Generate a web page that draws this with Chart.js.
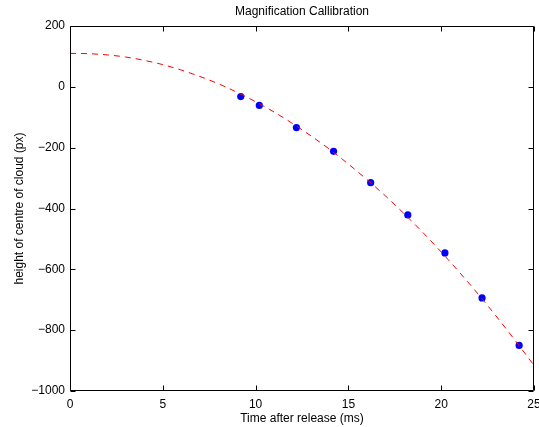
<!DOCTYPE html>
<html><head><meta charset="utf-8">
<script src="https://cdn.jsdelivr.net/npm/chart.js@4/dist/chart.umd.min.js"></script>
<style>html,body{margin:0;padding:0;background:#fff}#wrap{width:539px;height:427px}</style>
</head><body><div id="wrap"><canvas id="c" width="539" height="427"></canvas></div>
<script>
const chartTitle = 'Magnification Callibration';
const xLabel = 'Time after release (ms)';
const yLabel = 'height of centre of cloud (px)';
const measuredTime = [9.2, 10.2, 12.2, 14.2, 16.2, 18.2, 20.2, 22.2, 24.2];
const measuredHeight = [-32, -61, -134, -212, -315, -421, -546, -694, -850];
const fitTime = [0, 1, 2, 3, 4, 5, 6, 7, 8, 9, 10, 11, 12, 13, 14, 15, 16, 17, 18, 19, 20, 21, 22, 23, 24, 25];
const fitHeight = [110, 109, 105, 98, 87, 73, 55, 34, 10, -18, -49, -83, -121, -162, -206, -254, -305, -359, -417, -478, -543, -611, -682, -757, -835, -916];
const xTicks = [0, 5, 10, 15, 20, 25];
const yTicks = [-1000, -800, -600, -400, -200, 0, 200];

const FONT = 'Liberation Sans, Arial, Helvetica, sans-serif';
const fmt = v => String(v).replace('-', '\u2212');

const decor = {
  id: 'decor',
  afterDraw(chart) {
    const ctx = chart.ctx, a = chart.chartArea;
    const xs = chart.scales.x, ys = chart.scales.y;
    ctx.save();
    ctx.strokeStyle = '#000';
    ctx.lineWidth = 1;
    const L = Math.round(a.left) + 0.5, R = Math.round(a.right) - 0.5;
    const T = Math.round(a.top) + 0.5, B = Math.round(a.bottom) - 0.5;
    ctx.beginPath();
    ctx.rect(L, T, R - L, B - T);
    const tl = 5;
    xTicks.forEach(v => {
      const px = Math.round(xs.getPixelForValue(v)) + 0.5;
      ctx.moveTo(px, B); ctx.lineTo(px, B - tl);
      ctx.moveTo(px, T); ctx.lineTo(px, T + tl);
    });
    yTicks.forEach(v => {
      const py = Math.round(ys.getPixelForValue(v)) + 0.5;
      ctx.moveTo(L, py); ctx.lineTo(L + tl, py);
      ctx.moveTo(R, py); ctx.lineTo(R - tl, py);
    });
    ctx.stroke();
    ctx.fillStyle = '#000';
    ctx.font = '12px ' + FONT;
    ctx.textAlign = 'center';
    ctx.textBaseline = 'middle';
    const cx = (a.left + a.right) / 2;
    ctx.fillText(chartTitle, cx, 12);
    ctx.fillText(xLabel, cx, 419);
    ctx.translate(20, (a.top + a.bottom) / 2);
    ctx.rotate(-Math.PI / 2);
    ctx.fillText(yLabel, 0, 0);
    ctx.restore();
  }
};

new Chart(document.getElementById('c'), {
  type: 'scatter',
  data: {
    datasets: [
      {
        label: 'fit',
        data: fitTime.map((t, i) => ({ x: t, y: fitHeight[i] })),
        showLine: true,
        borderColor: '#ff0000',
        borderWidth: 1,
        borderDash: [6, 5],
        pointRadius: 0,
        cubicInterpolationMode: 'monotone',
        fill: false
      },
      {
        label: 'measured',
        data: measuredTime.map((t, i) => ({ x: t, y: measuredHeight[i] })),
        showLine: false,
        backgroundColor: '#0000ff',
        borderColor: '#0000ff',
        pointRadius: 3.6,
        borderWidth: 0
      }
    ]
  },
  options: {
    responsive: false,
    animation: false,
    devicePixelRatio: 1,
    layout: { padding: { top: 26, right: 5, left: 0, bottom: 0 } },
    plugins: { legend: { display: false }, title: { display: false }, tooltip: { enabled: false } },
    scales: {
      x: {
        type: 'linear', min: 0, max: 25,
        afterBuildTicks: s => { s.ticks = xTicks.map(v => ({ value: v })); },
        afterFit: s => { s.height = 36; s.paddingLeft = 0; s.paddingRight = 0; },
        grid: { display: false, drawTicks: false },
        border: { display: false },
        ticks: { color: '#000', font: { family: FONT, size: 12 }, padding: 6, maxRotation: 0, autoSkip: false, callback: v => fmt(v) }
      },
      y: {
        type: 'linear', min: -1000, max: 200,
        afterBuildTicks: s => { s.ticks = yTicks.map(v => ({ value: v })); },
        afterFit: s => { s.width = 70; s.paddingTop = 0; s.paddingBottom = 0; },
        grid: { display: false, drawTicks: false },
        border: { display: false },
        ticks: { color: '#000', font: { family: FONT, size: 12 }, padding: 5, autoSkip: false, callback: v => fmt(v) }
      }
    }
  },
  plugins: [decor]
});
</script>
</body></html>
